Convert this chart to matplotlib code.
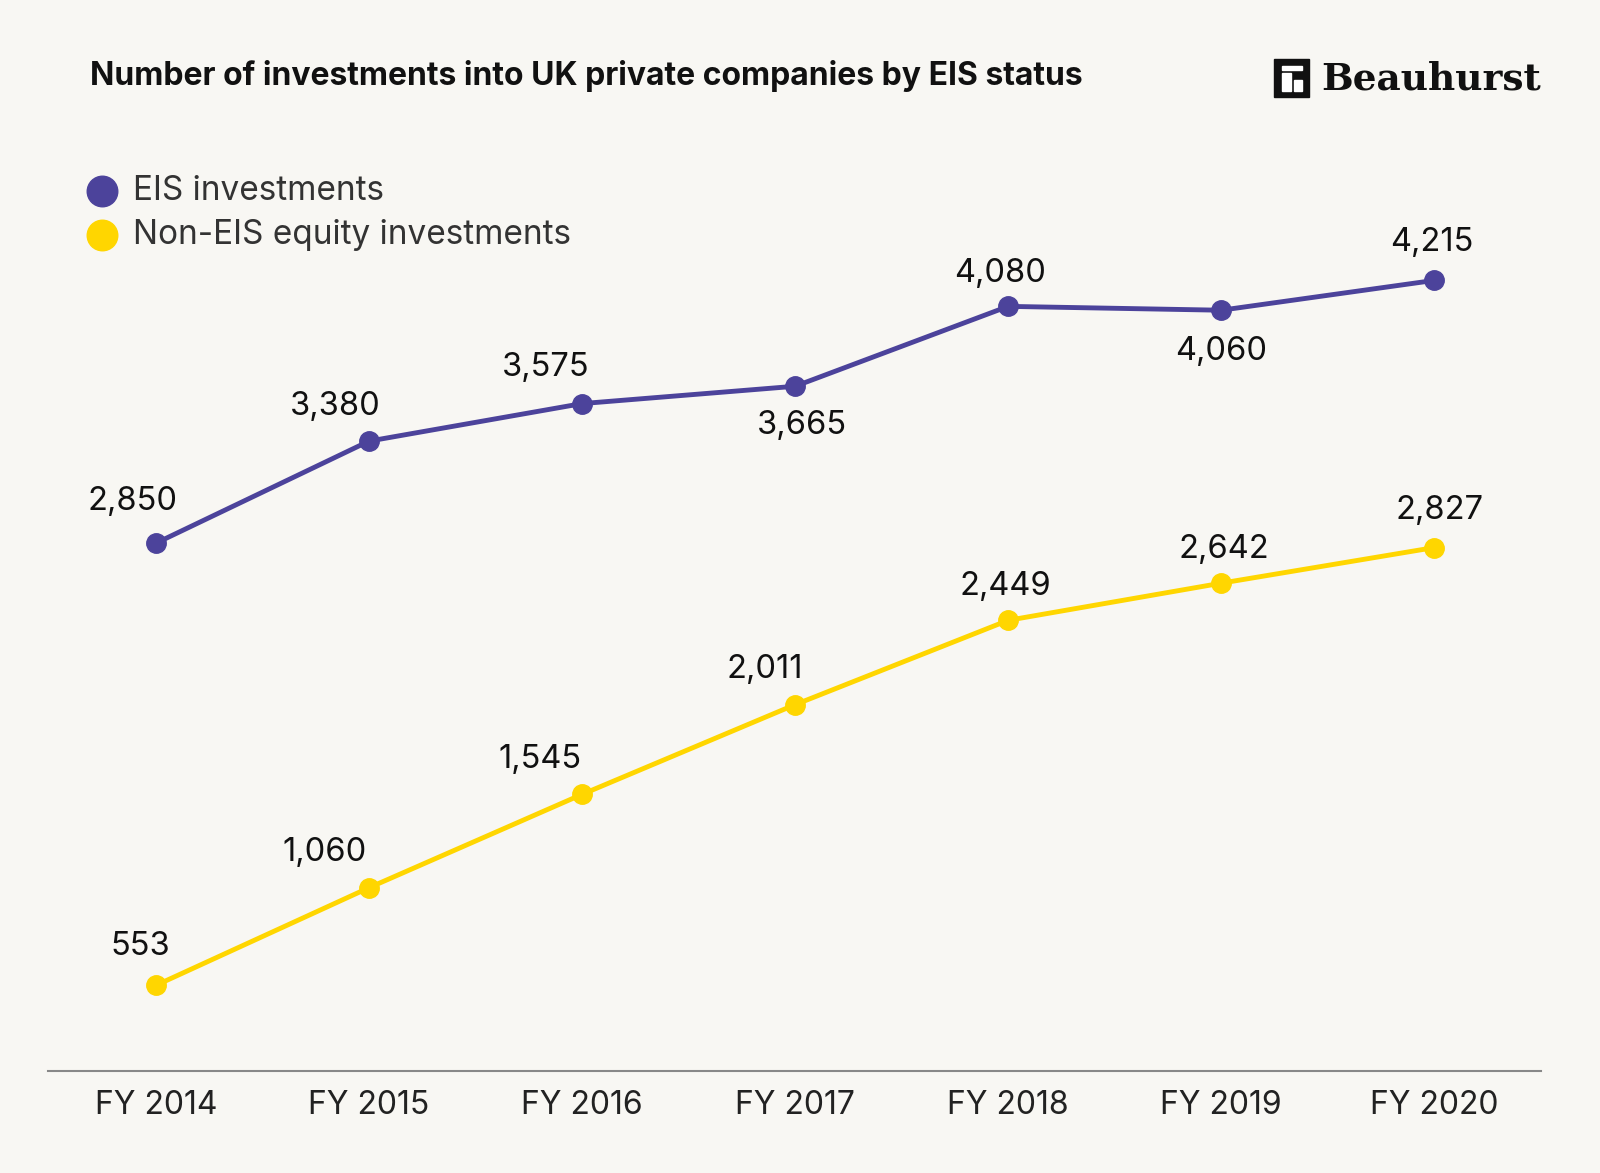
import matplotlib.pyplot as plt
from matplotlib.patches import Rectangle

years = ["FY 2014", "FY 2015", "FY 2016", "FY 2017", "FY 2018", "FY 2019", "FY 2020"]
eis = [2850, 3380, 3575, 3665, 4080, 4060, 4215]
non_eis = [553, 1060, 1545, 2011, 2449, 2642, 2827]

# label offsets in points (dx, dy) per point
eis_off = [(-17, 30), (-24, 25), (-26, 26), (5, -28), (-6, 24), (0, -30), (-2, 27)]
non_off = [(-11, 28), (-32, 25), (-30, 25), (-22, 25), (-2, 24), (2, 24), (4, 27)]

PURPLE = "#4c439b"
YELLOW = "#ffd600"
BG = "#f8f7f3"

plt.rcParams["font.family"] = ["Inter", "DejaVu Sans"]

fig = plt.figure(figsize=(16, 11.73), dpi=100, facecolor=BG)
ax = fig.add_axes([0.030, 0.087, 0.933, 0.800], facecolor=BG)
x = list(range(len(years)))

ax.plot(x, eis, color=PURPLE, lw=3.5, marker="o", ms=14, zorder=3)
ax.plot(x, non_eis, color=YELLOW, lw=3.5, marker="o", ms=14, zorder=3)
for xi, v, (dx, dy) in zip(x, eis, eis_off):
    ax.annotate(f"{v:,}", (xi, v), xytext=(dx, dy), textcoords="offset points",
                ha="center", va="center", fontsize=23.5, color="#111111")
for xi, v, (dx, dy) in zip(x, non_eis, non_off):
    ax.annotate(f"{v:,}", (xi, v), xytext=(dx, dy), textcoords="offset points",
                ha="center", va="center", fontsize=23.5, color="#111111")

ax.set_xlim(-0.507, 6.50)
ax.set_ylim(108, 4983)
ax.set_yticks([])
ax.set_xticks(x)
ax.set_xticklabels(years, fontsize=23, color="#222222")
ax.tick_params(axis="x", length=0, pad=14)
for s in ["top", "right", "left"]:
    ax.spines[s].set_visible(False)
ax.spines["bottom"].set_color("#888888")
ax.spines["bottom"].set_linewidth(1.5)

fig.text(0.056, 0.935, "Number of investments into UK private companies by EIS status",
         fontsize=23, fontweight="bold", color="#111111", va="center")

# legend
for i, (lab, c) in enumerate([("EIS investments", PURPLE), ("Non-EIS equity investments", YELLOW)]):
    yy = 0.837 - i * 0.037
    fig.add_artist(plt.Line2D([0.064], [yy], marker="o", ms=22, color=c, transform=fig.transFigure))
    fig.text(0.083, yy, lab, fontsize=24, color="#333333", va="center")

# logo
fig.add_artist(Rectangle((0.796, 0.917), 0.022, 0.033, color="#111111", transform=fig.transFigure))
fig.add_artist(Rectangle((0.801, 0.922), 0.006, 0.016, color="white", transform=fig.transFigure))
fig.add_artist(Rectangle((0.809, 0.922), 0.005, 0.010, color="white", transform=fig.transFigure))
fig.add_artist(Rectangle((0.801, 0.940), 0.013, 0.004, color="white", transform=fig.transFigure))
fig.text(0.826, 0.933, "Beauhurst", fontsize=27, fontweight="bold", family="DejaVu Serif",
         color="#111111", va="center")

fig.savefig("out.png", dpi=100, facecolor=BG)
